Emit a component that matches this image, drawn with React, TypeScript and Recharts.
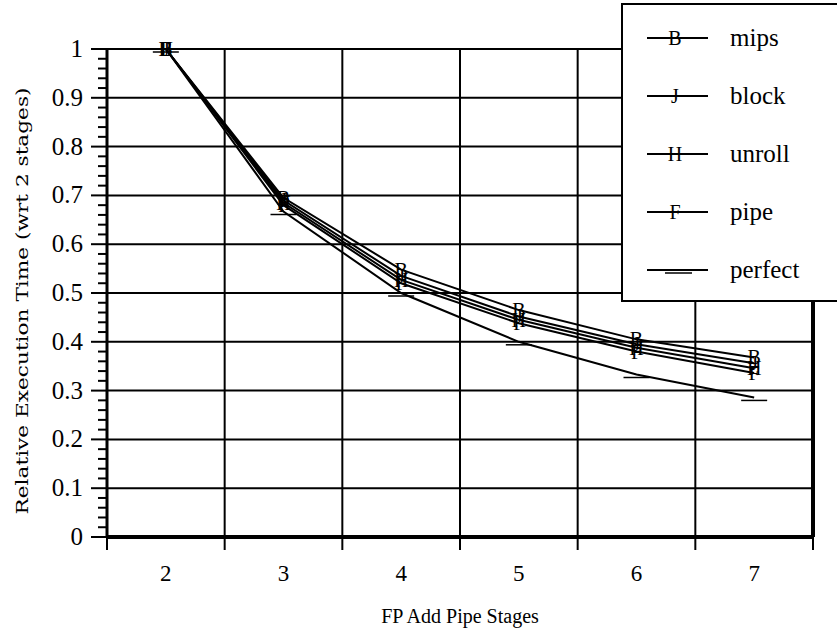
import React from 'react';
import { LineChart, Line, XAxis, YAxis, CartesianGrid, ReferenceLine, Legend } from 'recharts';

// FP add pipeline depth vs. relative execution time (normalised to 2 stages)
const stages = [2, 3, 4, 5, 6, 7];
const mips = [1, 0.695, 0.548, 0.465, 0.405, 0.368];
const block = [1, 0.69, 0.535, 0.452, 0.395, 0.356];
const unroll = [1, 0.685, 0.527, 0.445, 0.388, 0.346];
const pipe = [1, 0.68, 0.52, 0.438, 0.38, 0.336];
const perfect = [1, 0.667, 0.5, 0.4, 0.333, 0.286];

const yMajorTicks = [0, 0.1, 0.2, 0.3, 0.4, 0.5, 0.6, 0.7, 0.8, 0.9, 1];
const stageBounds = [1.5, 2.5, 3.5, 4.5, 5.5, 6.5, 7.5];

const seriesInfo = [
  { key: 'mips', mark: 'B' },
  { key: 'block', mark: 'J' },
  { key: 'unroll', mark: 'H' },
  { key: 'pipe', mark: 'F' },
  { key: 'perfect', mark: '' },
];

const chartData = stages.map((stage, i) => ({
  stage,
  mips: mips[i],
  block: block[i],
  unroll: unroll[i],
  pipe: pipe[i],
  perfect: perfect[i],
}));

// four minor ticks between each labelled tick
const yMinorTicks = yMajorTicks
  .slice(0, -1)
  .flatMap((v) => [1, 2, 3, 4].map((k) => +(v + k * 0.02).toFixed(2)));
const yAllTicks = [...yMajorTicks, ...yMinorTicks].sort((a, b) => a - b);

const FONT = '"Liberation Serif", "Times New Roman", serif';

const YTick = ({ x, y, payload }: any) => {
  const major = yMajorTicks.includes(payload.value);
  return (
    <g>
      <line x1={x - (major ? 16 : 9)} x2={x} y1={y} y2={y} stroke="#000" strokeWidth={2} />
      {major && (
        <text x={x - 24} y={y} dy={8} textAnchor="end" fontSize={25} fontFamily={FONT} fill="#000">
          {payload.value}
        </text>
      )}
    </g>
  );
};

const XTick = ({ x, y, width, payload }: any) => {
  const half = width / (stageBounds.length - 1) / 2;
  if (payload.value >= stageBounds[stageBounds.length - 1]) return <g />;
  return (
    <text x={x + half} y={y + 29} textAnchor="middle" fontSize={23} fontFamily={FONT} fill="#000">
      {payload.value + 0.5}
    </text>
  );
};

const letterDot = (mark: string) => (props: any) => (
  <text
    key={`${mark}-${props.index}`}
    x={props.cx}
    y={props.cy}
    dy={7}
    textAnchor="middle"
    fontSize={20}
    fontFamily={FONT}
    fill="#000"
  >
    {mark}
  </text>
);

const barDot = (props: any) => (
  <line
    key={`bar-${props.index}`}
    x1={props.cx - 13}
    x2={props.cx + 13}
    y1={props.cy + 3}
    y2={props.cy + 3}
    stroke="#000"
    strokeWidth={1.5}
  />
);

const YLabel = ({ viewBox }: any) => {
  const cx = viewBox.x + 22;
  const cy = viewBox.y + viewBox.height / 2 + 8;
  return (
    <text
      x={cx}
      y={cy}
      transform={`rotate(-90, ${cx}, ${cy})`}
      textAnchor="middle"
      dominantBaseline="central"
      fontSize={17}
      fontFamily='"DejaVu Serif", serif'
      textLength={427}
      lengthAdjust="spacingAndGlyphs"
      fill="#000"
    >
      Relative Execution Time (wrt 2 stages)
    </text>
  );
};

const LegendBox = () => (
  <div
    style={{
      border: '2px solid #000',
      background: '#fff',
      width: 240,
      height: 299,
      boxSizing: 'border-box',
      paddingTop: 4,
    }}
  >
    {seriesInfo.map((s) => (
      <div key={s.key} style={{ height: 58, display: 'flex', alignItems: 'center' }}>
        <svg width={107} height={30} style={{ display: 'block' }}>
          <line x1={24} x2={85} y1={15} y2={15} stroke="#000" strokeWidth={2} />
          {s.mark ? (
            <text x={52} y={15} dy={7} textAnchor="middle" fontSize={20} fontFamily={FONT} fill="#000">
              {s.mark}
            </text>
          ) : (
            <line x1={42} x2={69} y1={18} y2={18} stroke="#000" strokeWidth={1.5} />
          )}
        </svg>
        <span style={{ fontSize: 25, fontFamily: FONT, color: '#000', lineHeight: '30px' }}>{s.key}</span>
      </div>
    ))}
  </div>
);

export default function App() {
  return (
    <div
      style={{
        position: 'absolute',
        left: 0,
        top: 0,
        width: 837,
        height: 628,
        overflow: 'hidden',
        background: '#fff',
      }}
    >
      <LineChart width={837} height={628} data={chartData} margin={{ top: 49, right: 24, bottom: 0, left: 0 }}>
        <CartesianGrid
          stroke="#000"
          strokeWidth={2}
          horizontalValues={yMajorTicks}
          verticalValues={stageBounds}
        />
        <XAxis
          type="number"
          dataKey="stage"
          domain={[1.5, 7.5]}
          ticks={stageBounds}
          height={91}
          tickSize={13}
          tickMargin={2}
          tickLine={{ stroke: '#000', strokeWidth: 2 }}
          axisLine={{ stroke: '#000', strokeWidth: 4 }}
          tick={<XTick />}
          label={{
            value: 'FP Add Pipe Stages',
            position: 'insideBottom',
            offset: 5,
            style: { fontSize: 20, fontFamily: FONT, fill: '#000' },
          }}
        />
        <YAxis
          type="number"
          domain={[0, 1]}
          ticks={yAllTicks}
          interval={0}
          width={107}
          tickSize={0}
          tickMargin={0}
          tickLine={false}
          axisLine={{ stroke: '#000', strokeWidth: 3 }}
          tick={<YTick />}
          label={{ content: <YLabel /> }}
        />
        <ReferenceLine x={7.5} stroke="#000" strokeWidth={4} />
        {seriesInfo.map((s) => (
          <Line
            key={s.key}
            dataKey={s.key}
            name={s.key}
            type="linear"
            stroke="#000"
            strokeWidth={2}
            dot={s.mark ? letterDot(s.mark) : barDot}
            activeDot={false}
            isAnimationActive={false}
          />
        ))}
        <Legend
          layout="vertical"
          align="center"
          verticalAlign="middle"
          wrapperStyle={{ left: 621, top: 3, width: 240, height: 299 }}
          content={<LegendBox />}
        />
      </LineChart>
    </div>
  );
}
